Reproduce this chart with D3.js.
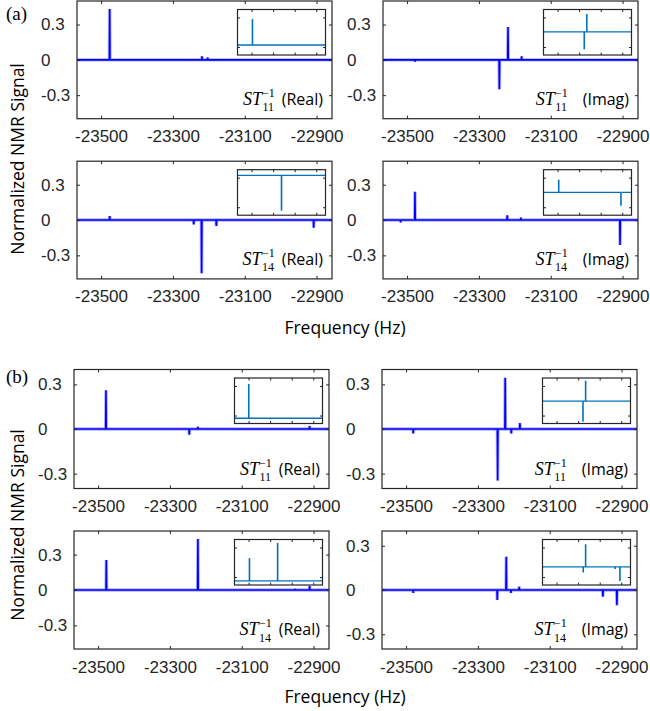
<!DOCTYPE html>
<html>
<head>
<meta charset="utf-8">
<script src="https://cdn.jsdelivr.net/npm/d3@7"></script>
<style>
  body { margin: 0; background: #fff; }
  svg { display: block; }
</style>
</head>
<body>
<div id="chart"></div>
<script>
const width = 650;
const height = 711;

// axis values
const freqTicks = [-23500, -23300, -23100, -22900];
const freqRange = [-23567, -22857];
const signalTicks = [-0.3, 0, 0.3];

// one entry per panel, (a) top-left .. (b) bottom-right
const panelGroup = ['a', 'a', 'a', 'a', 'b', 'b', 'b', 'b'];
const panelIndex = ['11', '11', '14', '14', '11', '11', '14', '14'];
const panelPart = ['Real', 'Imag', 'Real', 'Imag', 'Real', 'Imag', 'Real', 'Imag'];
const signalLimit = [0.5, 0.5, 0.5, 0.5, 0.4, 0.4, 0.5, 0.4];

// spectral lines (Hz) and their heights
const peakFreqs = [
  [-23476, -23219, -23203],
  [-23478, -23243, -23219, -23181],
  [-23476, -23242, -23220, -23179, -22908],
  [-23518, -23478, -23221, -23183, -22907],
  [-23478, -23246, -23222, -22911],
  [-23480, -23245, -23224, -23207, -23183],
  [-23477, -23222, -22952, -22911],
  [-23480, -23246, -23221, -23208, -23185, -22952, -22913]
];
const peakAmps = [
  [0.433, 0.03, 0.02],
  [-0.015, -0.249, 0.278, 0.03],
  [0.034, -0.037, -0.453, -0.05, -0.065],
  [-0.02, 0.24, 0.04, 0.02, -0.212],
  [0.26, -0.038, 0.015, 0.02],
  [-0.03, -0.347, 0.344, -0.03, 0.04],
  [0.255, 0.433, 0.01, 0.034],
  [-0.02, -0.068, 0.225, -0.02, 0.022, -0.045, -0.104]
];

// insets (own units, x 0..100, y -1..1)
const insetTicksX = [16, 40.5, 65, 89.5];
const insetTicksY = [-0.65, 0.65];
const insetBase = [-0.56, 0.02, 0.75, 0, -0.77, -0.02, -0.82, -0.2];
const insetSpikeX = [[17], [46.3, 49.2], [50], [17.3, 88], [16.2], [46, 49], [17, 49], [46.3, 49, 82.6, 88]];
const insetSpikeY = [[0.58], [-0.75, 0.8], [-0.8], [0.56, -0.58], [0.74], [-0.92, 0.88], [0.18, 0.85], [-0.45, 0.79, -0.3, -0.82]];

// layout
const colLeft = { a: [77, 383], b: [74, 382] };
const rowTop = [1, 161.2, 369.5, 531];
const rowHeight = [117.7, 117.7, 119, 118];
const panelWidth = 255;
const axisColor = '#262626';
const tickFont = '"Liberation Sans", Arial, sans-serif';
const labelFont = '"Open Sans", "Noto Sans", sans-serif';
const mathFont = '"Liberation Serif", "Times New Roman", serif';

const svg = d3.select('#chart')
  .append('svg')
  .attr('width', width)
  .attr('height', height);

panelGroup.forEach((g, i) => {
  const row = Math.floor(i / 2);
  const col = i % 2;
  const left = colLeft[g][col];
  const top = rowTop[row];
  const h = rowHeight[row];
  const lim = signalLimit[i];

  const x = d3.scaleLinear().domain(freqRange).range([0, panelWidth]);
  const y = d3.scaleLinear().domain([-lim, lim]).range([h, 0]);

  const panel = svg.append('g').attr('transform', `translate(${left},${top})`);

  // spectrum: baseline with narrow spikes
  const pts = [[freqRange[0], 0]];
  peakFreqs[i].forEach((f, k) => {
    pts.push([f - 0.8, 0], [f, peakAmps[i][k]], [f + 0.8, 0]);
  });
  pts.push([freqRange[1], 0]);

  const line = d3.line().x(d => x(d[0])).y(d => y(d[1]));

  panel.append('path')
    .attr('d', line(pts))
    .attr('fill', 'none')
    .attr('stroke', '#7b7bff')
    .attr('stroke-width', 3.4)
    .attr('opacity', 0.6);

  panel.append('path')
    .attr('d', line(pts))
    .attr('fill', 'none')
    .attr('stroke', '#0000ff')
    .attr('stroke-width', 1.6);

  // axes with inward ticks on all four sides
  const bottomAxis = d3.axisBottom(x).tickValues(freqTicks).tickSizeInner(-3).tickSizeOuter(0)
    .tickPadding(11.5).tickFormat(d => String(d));
  const topAxis = d3.axisTop(x).tickValues(freqTicks).tickSizeInner(-3).tickSizeOuter(0).tickFormat('');
  const leftAxis = d3.axisLeft(y).tickValues(signalTicks).tickSizeInner(-3).tickSizeOuter(0)
    .tickFormat(d => String(d));
  const rightAxis = d3.axisRight(y).tickValues(signalTicks).tickSizeInner(-3).tickSizeOuter(0).tickFormat('');

  const gb = panel.append('g').attr('transform', `translate(0,${h})`).call(bottomAxis);
  const gt = panel.append('g').call(topAxis);
  const gl = panel.append('g').call(leftAxis);
  const gr = panel.append('g').attr('transform', `translate(${panelWidth},0)`).call(rightAxis);

  [gb, gt, gl, gr].forEach(a => {
    a.select('.domain').remove();
    a.selectAll('line').attr('stroke', axisColor);
  });

  gb.selectAll('text')
    .attr('fill', axisColor)
    .style('font-family', tickFont)
    .style('font-size', '17px');

  gl.selectAll('text')
    .attr('fill', axisColor)
    .attr('text-anchor', 'start')
    .attr('x', -36)
    .style('font-family', tickFont)
    .style('font-size', '17px');

  panel.append('rect')
    .attr('width', panelWidth)
    .attr('height', h)
    .attr('fill', 'none')
    .attr('stroke', axisColor)
    .attr('stroke-width', 1.2);

  // inset
  const iw = 88, ih = 45.5;
  const inset = panel.append('g').attr('transform', `translate(${panelWidth - 6.5 - iw},8.5)`);
  const ix = d3.scaleLinear().domain([0, 100]).range([0, iw]);
  const iy = d3.scaleLinear().domain([-1, 1]).range([ih, 0]);

  inset.append('rect').attr('width', iw).attr('height', ih).attr('fill', '#fff');

  inset.append('line')
    .attr('x1', 0).attr('x2', iw)
    .attr('y1', iy(insetBase[i])).attr('y2', iy(insetBase[i]))
    .attr('stroke', '#0072bd')
    .attr('stroke-width', 1.3);

  inset.selectAll('.spike')
    .data(insetSpikeX[i])
    .enter()
    .append('line')
    .attr('class', 'spike')
    .attr('x1', d => ix(d)).attr('x2', d => ix(d))
    .attr('y1', iy(insetBase[i]))
    .attr('y2', (d, k) => iy(insetSpikeY[i][k]))
    .attr('stroke', '#0072bd')
    .attr('stroke-width', 1.6);

  const ia = [
    [d3.axisBottom(ix).tickValues(insetTicksX), `translate(0,${ih})`],
    [d3.axisTop(ix).tickValues(insetTicksX), null],
    [d3.axisLeft(iy).tickValues(insetTicksY), null],
    [d3.axisRight(iy).tickValues(insetTicksY), `translate(${iw},0)`]
  ];
  ia.forEach(([ax, tr]) => {
    const ga = inset.append('g').call(ax.tickSizeInner(-2.5).tickSizeOuter(0).tickFormat(''));
    if (tr) ga.attr('transform', tr);
    ga.select('.domain').remove();
    ga.selectAll('line').attr('stroke', axisColor);
  });

  inset.append('rect')
    .attr('width', iw)
    .attr('height', ih)
    .attr('fill', 'none')
    .attr('stroke', axisColor)
    .attr('stroke-width', 1.2);

  // ST label: ST with stacked sub/superscript, then (Real)/(Imag)
  const label = panel.append('text')
    .attr('x', panelWidth - 9)
    .attr('y', h - 14)
    .attr('text-anchor', 'end')
    .attr('fill', '#000');

  label.append('tspan')
    .style('font-family', mathFont)
    .style('font-style', 'italic')
    .style('font-size', '18px')
    .text('ST');
  label.append('tspan')
    .attr('dx', 0.5)
    .attr('dy', 6.5)
    .style('font-family', mathFont)
    .style('font-size', '12px')
    .text(panelIndex[i]);
  label.append('tspan')
    .attr('dx', -12)
    .attr('dy', -14.5)
    .style('font-family', mathFont)
    .style('font-size', '12px')
    .text('\u22121');
  label.append('tspan')
    .attr('dx', panelPart[i] === 'Real' ? 7 : 15)
    .attr('dy', 8)
    .style('font-family', labelFont)
    .style('font-size', '16px')
    .text(`(${panelPart[i]})`);
});

// group labels and axis titles
const groupLabelY = [20, 383];
const yTitleCenter = [159, 525];
const xTitleBase = [334, 703];

['a', 'b'].forEach((g, k) => {
  svg.append('text')
    .attr('x', 6)
    .attr('y', groupLabelY[k])
    .style('font-family', mathFont)
    .style('font-size', '19px')
    .text(`(${g})`);

  svg.append('text')
    .attr('transform', `translate(24,${yTitleCenter[k]}) rotate(-90)`)
    .attr('text-anchor', 'middle')
    .style('font-family', labelFont)
    .style('font-size', '17.5px')
    .text('Normalized NMR Signal');

  svg.append('text')
    .attr('x', 345)
    .attr('y', xTitleBase[k])
    .attr('text-anchor', 'middle')
    .style('font-family', labelFont)
    .style('font-size', '17.5px')
    .text('Frequency (Hz)');
});
</script>
</body>
</html>
